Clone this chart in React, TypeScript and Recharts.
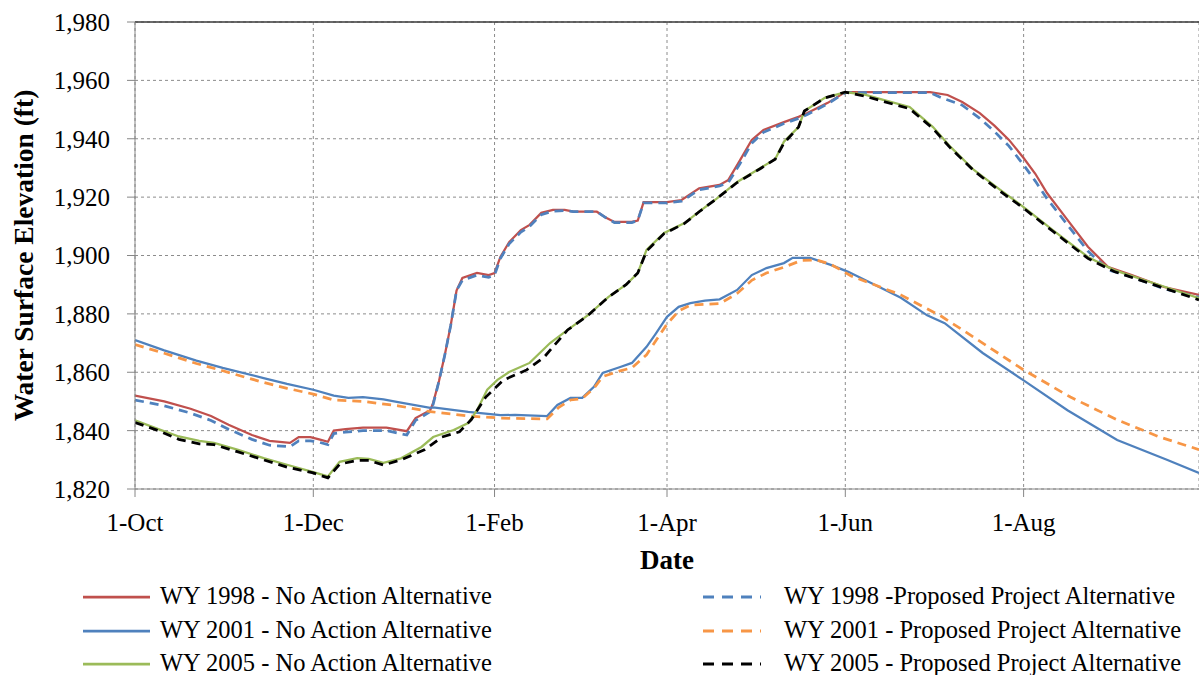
import React from "react";
import { LineChart, Line, XAxis, YAxis, CartesianGrid, ReferenceLine, Label } from "recharts";

// days counted from 1-Oct
const tickDays = [0, 61, 123, 182, 243, 304];
const tickLabels = ["1-Oct", "1-Dec", "1-Feb", "1-Apr", "1-Jun", "1-Aug"];
const elevationTicks = [1820, 1840, 1860, 1880, 1900, 1920, 1940, 1960, 1980];

const wy1998NoAction = [
  [0, 1852], [10, 1850], [19, 1847.5], [26, 1845], [32, 1842], [40, 1838.5], [46, 1836.5],
  [53, 1835.8], [56, 1837.8], [60, 1837.8], [63, 1837], [66, 1836.2], [68, 1840], [72, 1840.5],
  [78, 1841], [86, 1841], [93, 1839.8], [96, 1844.3], [101, 1847], [102, 1849.5], [104, 1857],
  [106, 1866], [108, 1876], [109, 1882], [110, 1888], [112, 1892.3], [117, 1894], [121, 1893.3],
  [123, 1894], [125, 1899.5], [128, 1904.6], [132, 1908.7], [135, 1910.5], [139, 1914.6],
  [143, 1915.6], [147, 1915.6], [150, 1915], [158, 1915], [161, 1913], [164, 1911.5], [170, 1911.5],
  [172, 1912], [174, 1918.3], [182, 1918.3], [187, 1919], [193, 1923], [200, 1924.2], [203, 1925.9],
  [207, 1932.7], [211, 1939.6], [215, 1943], [222, 1945.7], [227, 1947.5], [230, 1948.8],
  [237, 1952.3], [243, 1956], [272, 1956], [278, 1955], [283, 1952.6], [289, 1948.8], [294, 1944.5],
  [299, 1939.6], [304, 1933.4], [308, 1928], [312, 1921.4], [319, 1912.2], [326, 1903], [333, 1896],
  [341, 1893.3], [352, 1889.2], [364, 1886.5],
];

const wy1998Proposed = [
  [0, 1850.5], [10, 1848.5], [19, 1846], [26, 1843.5], [32, 1840.5], [40, 1837], [46, 1835],
  [53, 1834.5], [56, 1836.5], [60, 1836.5], [63, 1836], [66, 1835.2], [68, 1839], [72, 1839.5],
  [78, 1840], [86, 1840], [93, 1838.5], [96, 1843.5], [101, 1846.5], [102, 1849], [104, 1857],
  [106, 1866], [108, 1876], [109, 1882], [110, 1888], [112, 1891.5], [117, 1893.3], [121, 1892.5],
  [123, 1893.3], [125, 1899], [128, 1904], [132, 1908], [135, 1910], [139, 1914], [143, 1915.2],
  [147, 1915.4], [150, 1915], [158, 1915], [161, 1913], [164, 1911.3], [170, 1911.3], [172, 1912],
  [174, 1918], [182, 1918], [187, 1918.6], [193, 1922.5], [200, 1923.8], [203, 1925], [207, 1931.5],
  [211, 1938.5], [215, 1942.2], [222, 1945.2], [227, 1947], [230, 1948.3], [237, 1952], [243, 1955.8],
  [272, 1955.8], [276, 1954], [283, 1951.5], [289, 1947], [294, 1942.5], [299, 1937.5], [304, 1931],
  [308, 1925.5], [312, 1919.5], [319, 1910.5], [326, 1901.5], [333, 1895], [341, 1892.7],
  [352, 1888.6], [364, 1885.7],
];

const wy2001NoAction = [
  [0, 1871], [10, 1867.5], [21, 1864], [30, 1861.5], [44, 1858], [52, 1856], [61, 1854], [68, 1852],
  [73, 1851.2], [78, 1851.5], [85, 1850.7], [90, 1849.8], [101, 1847.8], [102, 1848], [114, 1846.4],
  [125, 1845.3], [130, 1845.4], [141, 1845], [144.5, 1848.8], [149, 1851.2], [153, 1851.2],
  [157, 1855], [160, 1859.8], [166, 1861.8], [170, 1863.2], [175, 1868.7], [178, 1873], [182, 1879],
  [186, 1882.4], [190, 1883.7], [195, 1884.5], [200, 1885], [206, 1888.2], [211, 1893.3],
  [216, 1895.7], [222, 1897.4], [225, 1899.2], [231, 1899.2], [238, 1896.8], [244, 1894.4],
  [256, 1888.5], [262, 1885.5], [271, 1879.5], [277, 1876.8], [290, 1866.6], [304, 1857.2],
  [319, 1847], [336, 1836.8], [353, 1830], [364, 1825.5],
];

const wy2001Proposed = [
  [0, 1869.5], [10, 1866.5], [21, 1863], [30, 1860.5], [44, 1856.5], [52, 1854.5], [61, 1852.5],
  [68, 1850.5], [78, 1850], [90, 1848.5], [101, 1846.5], [114, 1845], [125, 1844.3], [141, 1844],
  [145, 1848], [149, 1850.5], [153, 1851], [157, 1854.5], [160, 1858.5], [166, 1860.5], [170, 1861.5],
  [175, 1866], [178, 1870.5], [182, 1876.5], [186, 1881], [190, 1883], [200, 1883.5], [206, 1887],
  [211, 1891.5], [216, 1894], [222, 1896], [228, 1898.3], [233, 1898.5], [238, 1897], [245, 1893],
  [262, 1886.5], [276, 1879.1], [290, 1870], [304, 1860.8], [320, 1851.5], [336, 1843.7],
  [350, 1838], [364, 1833.5],
];

const wy2005NoAction = [
  [0, 1843.5], [8, 1840.5], [15, 1838], [22, 1836.5], [27, 1835.8], [35, 1833.5], [44, 1830.6],
  [52, 1828.3], [61, 1825.8], [66, 1824.3], [70, 1829.3], [76, 1830.6], [80, 1830.3], [85, 1829],
  [91, 1830.5], [98, 1834.4], [102, 1837.8], [109, 1840.2], [114, 1842.6], [117, 1847],
  [120.5, 1854], [124, 1857.4], [128, 1860.1], [135, 1863.2], [142, 1870], [148, 1874.5],
  [155, 1879.6], [162, 1885.8], [168, 1890], [172, 1894], [175, 1901.9], [181, 1907.7],
  [188, 1911.1], [193, 1915], [199, 1919.5], [206, 1925.2], [214, 1930], [219, 1933], [222, 1939],
  [227, 1944], [229, 1949.5], [236, 1954], [243, 1956], [250, 1955], [256, 1953.3], [265, 1950.9],
  [273, 1944], [279, 1937.2], [287, 1929.3], [296, 1922.5], [304, 1916.6], [314, 1908.7],
  [326, 1899.5], [335, 1895], [347, 1891], [364, 1885.4],
];

const wy2005Proposed = [
  [0, 1842.8], [8, 1840], [15, 1837], [22, 1835.5], [27, 1835.2], [35, 1832.8], [44, 1830],
  [52, 1827.5], [61, 1825.5], [66, 1823.8], [70, 1828.5], [76, 1829.8], [80, 1829.8], [85, 1828.2],
  [91, 1830], [99, 1833.4], [105, 1837.8], [111, 1839.6], [115, 1843.7], [120, 1851.5],
  [126, 1857.3], [134, 1860.8], [140, 1865.2], [148, 1874.5], [155, 1879.5], [162, 1885.8],
  [168, 1890], [172, 1894], [175, 1901.5], [181, 1907.5], [188, 1911], [193, 1915], [199, 1919.5],
  [206, 1925], [214, 1929.8], [219, 1933], [222, 1938.5], [227, 1944], [229, 1949.5], [236, 1954],
  [243, 1956], [250, 1954.5], [256, 1952.8], [265, 1950.3], [273, 1943.5], [279, 1936.8],
  [287, 1929], [296, 1922], [304, 1916.2], [314, 1908.3], [326, 1899], [335, 1894.5], [347, 1890.5],
  [364, 1884.8],
];

const series = [
  { name: "WY 1998 - No Action Alternative", points: wy1998NoAction, color: "#C0504D", dashed: false },
  { name: "WY 1998 -Proposed Project Alternative", points: wy1998Proposed, color: "#4F81BD", dashed: true },
  { name: "WY 2001 - No Action Alternative", points: wy2001NoAction, color: "#4F81BD", dashed: false },
  { name: "WY 2001 - Proposed Project Alternative", points: wy2001Proposed, color: "#F79646", dashed: true },
  { name: "WY 2005 - No Action Alternative", points: wy2005NoAction, color: "#9BBB59", dashed: false },
  { name: "WY 2005 - Proposed Project Alternative", points: wy2005Proposed, color: "#000000", dashed: true },
];

const FONT = "'Liberation Serif', 'Times New Roman', serif";

function YTitle(props: any) {
  const vb = props.viewBox;
  const x = vb.x + 33;
  const y = vb.y + vb.height / 2;
  return (
    <text x={x} y={y} transform={`rotate(-90, ${x}, ${y})`} textAnchor="middle"
      fontFamily={FONT} fontWeight="bold" fontSize={27.5} fill="#000">
      Water Surface Elevation (ft)
    </text>
  );
}

function XTitle(props: any) {
  const vb = props.viewBox;
  return (
    <text x={vb.x + vb.width / 2} y={vb.y + 80} textAnchor="middle"
      fontFamily={FONT} fontWeight="bold" fontSize={27} fill="#000">
      Date
    </text>
  );
}

function LegendBox() {
  const rows = [0, 1, 2];
  return (
    <div style={{ position: "absolute", left: 0, top: 580, width: 1199, fontFamily: FONT, fontSize: 24.5, color: "#000" }}>
      {rows.map((r) => {
        const left = series[r * 2];
        const right = series[r * 2 + 1];
        return (
          <div key={r} style={{ position: "relative", height: 33.5 }}>
            <svg style={{ position: "absolute", left: 83, top: 0 }} width={67} height={34}>
              <line x1={0} x2={67} y1={17} y2={17} stroke={left.color} strokeWidth={2.75} />
            </svg>
            <span style={{ position: "absolute", left: 160, top: 2, whiteSpace: "nowrap" }}>{left.name}</span>
            <svg style={{ position: "absolute", left: 703, top: 0 }} width={58} height={34}>
              <line x1={0} x2={58} y1={17} y2={17} stroke={right.color} strokeWidth={3} strokeDasharray="11 8" />
            </svg>
            <span style={{ position: "absolute", left: 784, top: 2, whiteSpace: "nowrap" }}>{right.name}</span>
          </div>
        );
      })}
    </div>
  );
}

export default function App() {
  return (
    <div style={{ position: "absolute", left: 0, top: 0, width: 1199, height: 675, background: "#fff", overflow: "hidden" }}>
      <LineChart width={1199} height={675} margin={{ top: 22, right: 0, bottom: 96, left: 0 }}>
        <CartesianGrid stroke="#8c8c8c" strokeDasharray="3 3" />
        <XAxis
          dataKey="day"
          type="number"
          domain={[0, 364]}
          allowDataOverflow
          ticks={tickDays}
          tickFormatter={(d: number) => tickLabels[tickDays.indexOf(d)] ?? ""}
          height={90}
          tickSize={8}
          tickMargin={16}
          stroke="#868686"
          tick={{ fill: "#000", fontFamily: FONT, fontSize: 25 }}
        >
          <Label content={<XTitle />} />
        </XAxis>
        <YAxis
          type="number"
          domain={[1820, 1980]}
          ticks={elevationTicks}
          tickFormatter={(v: number) => v.toLocaleString("en-US")}
          width={135}
          tickSize={8}
          tickMargin={17}
          stroke="#868686"
          tick={{ fill: "#000", fontFamily: FONT, fontSize: 25 }}
        >
          <Label content={<YTitle />} />
        </YAxis>
        <ReferenceLine y={1980} stroke="#3a3a3a" strokeWidth={1.5} />
        {series.map((s) => (
          <Line
            key={s.name}
            name={s.name}
            data={s.points.map(([day, elev]) => ({ day, elev }))}
            dataKey="elev"
            type="linear"
            stroke={s.color}
            strokeWidth={s.dashed ? 2.75 : 2.25}
            strokeDasharray={s.dashed ? "9 6" : undefined}
            dot={false}
            activeDot={false}
            isAnimationActive={false}
          />
        ))}
      </LineChart>
      <LegendBox />
    </div>
  );
}
